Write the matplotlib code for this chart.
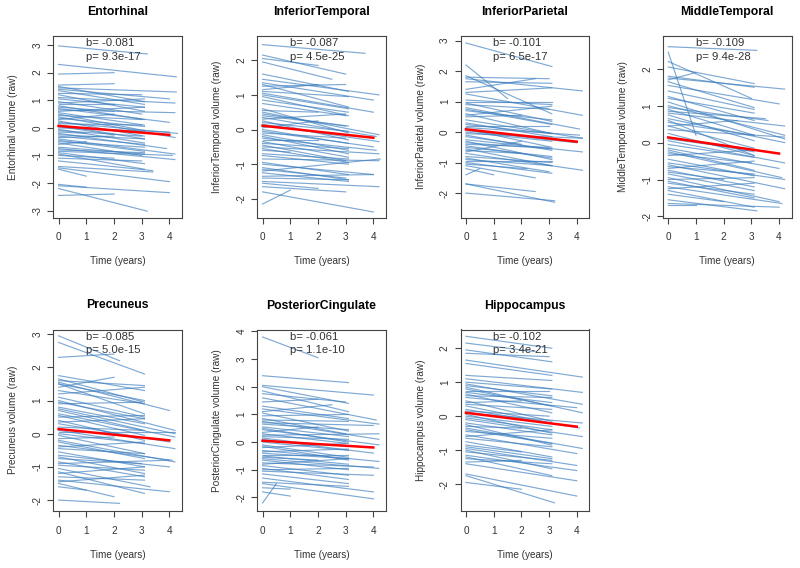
import matplotlib
matplotlib.use('Agg')
import matplotlib.pyplot as plt

# each subject: value at baseline, value at last visit, years of follow-up
ento_start = [2.97, 2.30, 1.95, 1.55, 1.45, 1.40, 1.35, 1.25, 1.10, 1.05, 0.95, 0.90, 0.80, 0.75, 0.70,
              0.60, 0.50, 0.45, 0.40, 0.35, 0.30, 0.25, 0.20, 0.15, 0.10, 0.05, 0.00, -0.05, -0.10, -0.20,
              -0.25, -0.30, -0.35, -0.40, -0.50, -0.55, -0.60, -0.70, -0.75, -0.80, -0.85, -0.90, -1.00,
              -1.10, -1.20, -1.40, -1.45, -1.50, -2.10, -2.20, -2.45, -2.05, 1.50, 0.65, -0.15, -0.45,
              1.20, 0.85, -0.95, 0.55]
ento_end = [2.68, 1.85, 2.00, 1.60, 1.30, 1.05, 0.85, 1.20, 0.90, 0.75, 0.50, 1.05, 0.30, 0.60, 0.20,
            0.75, -0.10, 0.30, -0.35, 0.05, 0.50, -0.30, -0.20, 0.10, -0.40, -0.25, -0.15, -0.55, -0.30,
            -0.75, -0.40, -0.60, -0.30, -0.95, -0.70, -1.00, -0.50, -0.95, -1.15, -0.90, -1.00, -1.30,
            -1.10, -1.20, -1.55, -1.60, -1.95, -1.75, -2.35, -3.02, -2.40, -2.15, 0.95, 0.55, -0.20,
            -0.85, 0.60, 0.85, -1.50, 0.10]
ento_years = [3.2, 4.25, 2.0, 2.0, 4.25, 4.0, 3.1, 3.0, 4.2, 3.1, 3.0, 3.1, 3.1, 2.0, 4.0,
              3.1, 3.1, 3.0, 4.2, 3.1, 2.0, 3.1, 4.3, 3.0, 3.1, 2.0, 4.0, 3.1, 3.0, 3.9,
              3.1, 3.1, 2.0, 4.2, 3.1, 3.0, 1.0, 3.1, 4.2, 3.1, 4.1, 3.1, 2.0,
              3.0, 3.4, 3.4, 4.0, 1.0, 4.0, 3.2, 2.0, 1.0, 3.1, 4.2, 1.0, 3.1,
              3.1, 2.0, 3.1, 3.1]

it_start = [2.45, 2.15, 2.05, 1.95, 1.60, 1.45, 1.35, 1.25, 1.10, 1.05, 1.00, 0.95, 0.75, 0.55, 0.50,
            0.40, 0.35, 0.30, 0.25, 0.20, 0.15, 0.05, 0.00, -0.05, -0.10, -0.20, -0.25, -0.30, -0.35,
            -0.40, -0.45, -0.50, -0.55, -0.60, -0.70, -0.85, -0.95, -1.00, -1.10, -1.15, -1.25, -1.35,
            -1.40, -1.50, -1.55, -1.65, -1.80, -2.15, 0.85, 0.60, 1.15, -0.15, 0.45, -0.75, -1.20, 1.30]
it_end = [2.20, 1.60, 1.85, 1.45, 1.10, 1.00, 0.85, 1.30, 0.95, 0.50, 0.60, 0.40, 0.40, 0.50, -0.15,
          0.10, -0.20, 0.45, -0.30, -0.05, -0.35, 0.25, -0.40, -0.50, -0.25, -0.70, -0.60, -0.30, -0.80,
          -0.55, -0.90, -0.70, -0.95, -0.65, -0.85, -0.90, -1.30, -1.30, -1.45, -1.40, -1.50, -1.30,
          -1.45, -1.65, -1.70, -1.80, -2.38, -1.75, 0.50, -0.10, 1.30, -0.60, 0.10, -1.00, -0.85, 0.65]
it_years = [3.7, 3.0, 2.0, 2.5, 3.1, 4.2, 4.0, 3.0, 3.1, 4.0, 3.1, 3.1, 3.0, 2.0, 4.2,
            3.1, 4.1, 3.0, 3.1, 3.1, 4.2, 2.0, 3.1, 4.0, 3.0, 3.1, 4.1, 2.0, 3.1,
            3.1, 3.0, 4.2, 3.1, 1.0, 3.1, 4.2, 3.1, 4.0, 3.1, 3.0, 3.1, 4.0,
            3.1, 4.2, 2.0, 3.0, 4.0, 1.0, 3.1, 3.1, 2.0, 3.1, 3.0, 3.1, 4.25, 3.1]

ip_start = [2.92, 2.20, 1.80, 1.75, 1.65, 1.40, 1.25, 1.00, 0.95, 0.90, 0.80, 0.70, 0.60, 0.50, 0.40,
            0.30, 0.20, 0.10, 0.05, 0.00, -0.10, -0.15, -0.25, -0.30, -0.40, -0.45, -0.55, -0.60, -0.70,
            -0.80, -0.85, -0.90, -1.00, -1.05, -1.10, -1.20, -1.40, -1.70, -2.00, -1.70, 1.05, 0.55,
            -0.05, 0.25, -0.35, 0.75, -0.95, 1.30, 0.15, -0.50, 1.85, -0.65]
ip_end = [2.15, 1.10, 1.75, 1.35, 1.60, 1.75, 0.55, 1.00, 0.35, 0.75, 0.10, 0.40, -0.05, 0.55, -0.20,
          -0.15, 0.20, -0.50, -0.35, -0.30, -0.60, -0.40, -0.65, -0.90, -0.50, -0.85, -1.10, -0.70, -1.25,
          -1.00, -1.30, -1.10, -1.35, -1.20, -1.50, -1.40, -1.20, -1.95, -2.25, -2.30, 0.90, 0.85,
          -0.20, -0.05, -0.55, 0.25, -0.95, 1.45, -0.10, -0.80, 0.60, -0.30]
ip_years = [3.1, 1.5, 3.0, 4.2, 3.1, 2.5, 4.2, 3.1, 3.1, 3.0, 4.1, 3.1, 3.1, 2.0, 4.2,
            3.1, 3.0, 3.1, 4.0, 3.1, 3.1, 2.0, 4.2, 3.1, 3.0, 3.1, 3.1, 2.0, 4.2,
            3.1, 3.0, 3.1, 3.1, 2.2, 2.5, 1.0, 0.5, 2.5, 3.2, 3.2, 3.1, 3.1,
            4.2, 3.1, 3.1, 3.1, 3.1, 3.1, 4.1, 3.1, 3.1, 2.0]

mt_start = [2.60, 2.45, 2.20, 2.05, 1.80, 1.75, 1.65, 1.55, 1.25, 1.20, 1.10, 0.95, 0.90, 0.75, 0.65,
            0.55, 0.45, 0.35, 0.25, 0.15, 0.05, -0.05, -0.20, -0.25, -0.30, -0.45, -0.55, -0.65, -0.75,
            -0.80, -0.85, -0.95, -1.05, -1.10, -1.20, -1.30, -1.40, -1.55, -1.65, -1.70, 1.40, 0.85,
            -0.35, 0.60, -0.60, 1.00, -1.00, 0.10, -0.15, 1.70, -0.70, 0.45, -1.25, 0.80]
mt_end = [2.50, 0.20, 1.20, 1.60, 1.50, 1.45, 0.95, 1.05, 0.60, 0.80, 0.10, 0.60, 0.20, 0.05, 0.00,
          0.20, -0.15, 0.15, -0.35, -0.25, -0.55, -0.40, -0.75, -0.95, -0.55, -0.90, -1.00, -0.85, -1.20,
          -1.00, -1.30, -1.60, -1.50, -1.40, -1.65, -1.75, -1.60, -1.85, -1.75, -1.70, 0.90, 0.65,
          -0.20, -0.35, -1.25, 0.20, -0.95, -0.10, -0.70, 1.90, -0.50, 0.60, -1.10, 0.45]
mt_years = [3.2, 1.0, 3.0, 3.1, 3.1, 4.2, 3.1, 4.0, 3.1, 3.1, 4.2, 3.6, 3.1, 3.1, 4.2,
            3.1, 3.1, 4.2, 3.1, 3.1, 4.2, 3.1, 3.1, 4.1, 3.0, 3.1, 4.2, 3.1, 3.1,
            2.0, 3.1, 4.0, 3.1, 3.1, 4.1, 3.1, 2.0, 3.2, 4.0, 1.0, 3.1, 3.5,
            3.1, 3.1, 4.2, 4.2, 3.1, 2.0, 4.0, 1.0, 3.1, 2.5, 3.1, 4.2]

pc_start = [2.95, 2.75, 2.30, 1.75, 1.60, 1.55, 1.50, 1.40, 1.30, 1.10, 1.00, 0.90, 0.80, 0.70, 0.60,
            0.50, 0.40, 0.30, 0.20, 0.10, 0.00, -0.05, -0.15, -0.25, -0.35, -0.45, -0.55, -0.65, -0.75,
            -0.85, -0.95, -1.05, -1.15, -1.30, -1.40, -1.50, -1.60, -2.00, 1.20, 0.35, -0.20, 0.75,
            -0.70, 1.65, -0.40, 0.05, -1.20, 0.95, -0.90, 0.55, -1.45, 1.50]
pc_end = [2.20, 1.80, 2.40, 1.30, 1.45, 0.70, 1.00, 1.70, 0.90, 0.50, 0.10, 0.95, 0.30, 0.10, -0.10,
          0.55, -0.20, -0.25, 0.10, -0.45, -0.30, -0.60, -0.10, -0.75, -0.80, -0.60, -1.00, -1.00, -0.90,
          -1.30, -1.10, -1.60, -1.80, -1.40, -1.75, -1.90, -1.70, -2.10, 1.40, 0.45, -0.85, 0.00,
          -1.20, 0.95, -0.25, 0.05, -1.00, 0.45, -0.80, -0.05, -1.25, 0.60]
pc_years = [2.2, 3.1, 2.0, 3.1, 3.1, 4.0, 3.1, 2.0, 3.1, 3.1, 4.2, 3.0, 3.1, 3.1, 4.2,
            3.1, 3.1, 4.0, 3.0, 4.2, 3.1, 3.1, 2.0, 3.1, 4.1, 3.1, 3.1, 4.0, 3.0,
            3.1, 3.1, 3.3, 3.1, 3.1, 4.0, 2.0, 1.0, 2.2, 3.1, 3.1, 4.2, 4.2,
            3.1, 3.1, 3.1, 4.2, 3.1, 3.1, 4.0, 3.1, 3.1, 3.1]

cing_start = [3.80, 2.40, 2.05, 2.00, 1.75, 1.60, 1.45, 1.30, 1.20, 1.05, 0.95, 0.85, 0.75, 0.65, 0.55,
              0.45, 0.35, 0.30, 0.20, 0.10, 0.00, -0.10, -0.20, -0.30, -0.40, -0.50, -0.55, -0.65, -0.75,
              -0.85, -0.95, -1.05, -1.15, -1.30, -1.45, -1.50, -1.65, -1.80, -2.20, 0.80, -0.35, 0.25,
              -0.60, 1.10, -0.80, 0.50, -0.15, 0.70, -1.00, 1.85, -0.45, 0.15]
cing_end = [3.05, 2.15, 1.70, 1.40, 1.45, 0.80, 1.55, 0.85, 0.65, 0.40, 1.00, 0.30, 0.10, 0.45, 0.20,
            -0.10, 0.55, -0.05, 0.10, -0.40, -0.30, -0.55, -0.05, -0.70, -0.60, -0.80, -0.65, -1.00, -0.90,
            -1.20, -1.35, -1.20, -1.50, -1.80, -1.60, -2.05, -1.70, -1.95, -1.50, 0.75, -0.25, 0.30,
            -0.95, 1.35, -0.60, 0.00, -0.65, 0.60, -0.95, 1.10, -0.45, -0.10]
cing_years = [2.0, 3.1, 4.0, 3.1, 3.0, 4.1, 2.0, 3.1, 4.2, 3.1, 3.1, 3.0, 4.2, 3.1, 3.1,
              4.2, 2.0, 3.1, 3.1, 4.0, 3.1, 3.1, 3.0, 4.2, 3.1, 3.1, 2.0, 3.1, 4.0,
              3.1, 3.1, 4.0, 3.1, 4.0, 3.1, 4.0, 1.0, 1.0, 0.5, 3.1, 3.1, 4.2,
              4.2, 2.5, 3.1, 3.1, 3.1, 4.0, 3.1, 3.1, 3.1, 2.0]

hip_start = [2.35, 2.15, 1.95, 1.85, 1.65, 1.55, 1.10, 1.00, 0.95, 0.90, 0.80, 0.75, 0.65, 0.55, 0.45,
             0.40, 0.30, 0.20, 0.15, 0.05, 0.00, -0.10, -0.20, -0.30, -0.40, -0.45, -0.55, -0.65, -0.75,
             -0.85, -0.95, -1.05, -1.15, -1.25, -1.40, -1.70, -1.75, -1.95, -1.20, 0.85, -0.25, 0.35,
             -0.60, 0.60, -0.90, 1.20, 0.10, -0.35, -1.35, 0.70, -0.05, -1.00]
hip_end = [2.00, 1.90, 1.60, 1.75, 1.15, 1.20, 0.70, 0.80, 0.35, 0.60, 0.30, 0.75, 0.10, 0.25, -0.15,
           0.45, -0.20, -0.35, 0.00, -0.50, -0.30, -0.60, -0.55, -0.35, -0.80, -0.65, -1.10, -0.90, -1.20,
           -1.05, -1.45, -1.30, -1.60, -1.40, -1.90, -2.35, -2.55, -2.15, -1.75, 0.10, -0.85, 0.20,
           -0.40, 0.55, -1.25, 1.05, -0.20, -0.95, -1.30, 0.40, -0.40, -1.55]
hip_years = [3.1, 2.5, 3.1, 3.0, 4.2, 3.1, 4.2, 3.1, 4.2, 3.1, 3.1, 3.0, 3.1, 4.0, 3.1,
             2.0, 3.1, 4.1, 3.0, 3.1, 3.1, 4.2, 3.1, 2.0, 3.1, 3.1, 4.0, 3.1, 3.1,
             2.0, 4.0, 3.1, 4.0, 3.1, 4.0, 4.0, 3.2, 2.0, 3.1, 4.2, 3.1, 3.1,
             3.1, 3.1, 3.1, 3.1, 4.2, 4.2, 2.0, 3.1, 3.1, 3.1]

regions = ['Entorhinal', 'InferiorTemporal', 'InferiorParietal', 'MiddleTemporal',
           'Precuneus', 'PosteriorCingulate', 'Hippocampus']
starts = [ento_start, it_start, ip_start, mt_start, pc_start, cing_start, hip_start]
ends = [ento_end, it_end, ip_end, mt_end, pc_end, cing_end, hip_end]
years = [ento_years, it_years, ip_years, mt_years, pc_years, cing_years, hip_years]

slopes = [-0.081, -0.087, -0.101, -0.109, -0.085, -0.061, -0.102]
intercepts = [0.07, 0.11, 0.09, 0.14, 0.14, 0.05, 0.10]
pvals = ['9.3e-17', '4.5e-25', '6.5e-17', '9.4e-28', '5.0e-15', '1.1e-10', '3.4e-21']
ylims = [(-3.25, 3.33), (-2.54, 2.70), (-2.80, 3.15), (-2.03, 2.89),
         (-2.33, 3.14), (-2.49, 4.07), (-2.79, 2.55)]
yticks = [range(-3, 4), range(-2, 3), range(-2, 4), range(-2, 3),
          range(-2, 4), range(-2, 5), range(-2, 3)]

plt.rcParams['font.family'] = ['Liberation Sans', 'DejaVu Sans']
plt.rcParams['axes.unicode_minus'] = False
W, H = 800, 568
fig = plt.figure(figsize=(8, 5.68), dpi=100)

lefts = [53.3, 257.3, 460.7, 663]
tops = [36, 329.5]
bw, bh = 128.5, 181.5

line_col = '#3a7cbd'
axcol = '#444444'
txtcol = '#333333'

for k, name in enumerate(regions):
    r, c = divmod(k, 4)
    ax = fig.add_axes([lefts[c] / W, 1 - (tops[r] + bh) / H, bw / W, bh / H])
    for y0, y1, t in zip(starts[k], ends[k], years[k]):
        ax.plot([0, t], [y0, y1], color=line_col, alpha=0.65, lw=0.85)
    b = slopes[k]
    a = intercepts[k]
    ax.plot([0, 4], [a, a + 4 * b], color='red', lw=1.8)
    ax.set_xlim(-0.19, 4.45)
    ax.set_ylim(*ylims[k])
    ax.set_xticks(range(0, 5))
    ax.set_yticks(list(yticks[k]))
    ax.tick_params(direction='out', length=4.3, width=0.8, color=axcol,
                   labelsize=7.2, labelcolor=txtcol)
    ax.tick_params(axis='x', pad=6.5)
    ax.tick_params(axis='y', pad=3.5)
    for lab in ax.get_yticklabels():
        lab.set_rotation(90)
        lab.set_va('center')
    for s in ax.spines.values():
        s.set_color(axcol)
        s.set_linewidth(0.8)
    ax.set_xlabel('Time (years)', fontsize=7.2, color=txtcol)
    ax.xaxis.set_label_coords(0.5, -44 / bh)
    ax.xaxis.label.set_va('center')
    ax.set_ylabel(name + ' volume (raw)', fontsize=7.2, color=txtcol)
    ax.yaxis.set_label_coords(-40 / bw, 0.5)
    ax.yaxis.label.set_va('center')
    ax.text(0.5, 1 + 24 / bh, name, transform=ax.transAxes, ha='center', va='center',
            fontsize=8.8, fontweight='bold')
    ax.text(0.255, 1 - 7.5 / bh, 'b= %.3f' % b, transform=ax.transAxes, ha='left', va='center',
            fontsize=8.2, color=txtcol)
    ax.text(0.255, 1 - 20.5 / bh, 'p= ' + pvals[k], transform=ax.transAxes, ha='left', va='center',
            fontsize=8.2, color=txtcol)

fig.savefig('out.png', dpi=100)
